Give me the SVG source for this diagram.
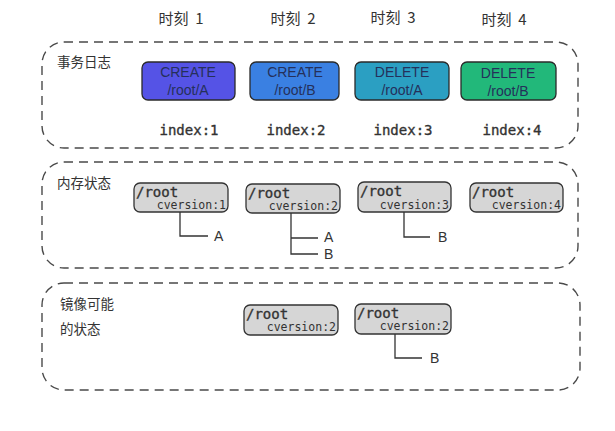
<svg xmlns="http://www.w3.org/2000/svg" width="615" height="431" viewBox="0 0 615 431">
<style>
.bg{fill:#ffffff}
.group{fill:none;stroke:#4a4a4a;stroke-width:1.4;stroke-dasharray:9 6}
.title{font-family:"Noto Sans CJK SC","Noto Sans",sans-serif;font-size:15px;fill:#333;text-anchor:middle;white-space:pre}
.sec{font-family:"Noto Sans CJK SC","Noto Sans",sans-serif;font-size:13.5px;fill:#333}
.log{stroke:#2a2a2a;stroke-width:1.3}
.logt{font-family:"Liberation Sans",sans-serif;font-size:14px;fill:#25305a;text-anchor:middle}
.idx{font-family:"DejaVu Sans Mono","Liberation Mono",monospace;font-size:14px;fill:#333;stroke:#333;stroke-width:0.35;text-anchor:middle}
.mem{fill:#d6d6d6;stroke:#333;stroke-width:1.3}
.root{font-family:"DejaVu Sans Mono","Liberation Mono",monospace;font-size:14px;fill:#333;stroke:#333;stroke-width:0.35}
.cv{font-family:"DejaVu Sans Mono","Liberation Mono",monospace;font-size:11.5px;fill:#333;text-anchor:end}
.tree{fill:none;stroke:#333;stroke-width:1.3}
.leaf{font-family:"Liberation Sans",sans-serif;font-size:14px;fill:#333}
</style>
<rect class="bg" x="0" y="0" width="615" height="431"/>

<g id="titles">
<text class="title" x="181" y="24">时刻  1</text>
<text class="title" x="293" y="24">时刻  2</text>
<text class="title" x="393" y="23">时刻  3</text>
<text class="title" x="504" y="25">时刻  4</text>
</g>

<g id="group-log">
<rect class="group" x="42" y="42" width="536" height="106" rx="22"/>
<text class="sec" x="57" y="67">事务日志</text>
</g>
<g id="group-mem">
<rect class="group" x="42" y="162" width="536" height="106" rx="22"/>
<text class="sec" x="57" y="188">内存状态</text>
</g>
<g id="group-mirror">
<rect class="group" x="42" y="283" width="538" height="107" rx="22"/>
<text class="sec" x="60" y="309">镜像可能</text>
<text class="sec" x="60" y="334">的状态</text>
</g>

<g id="log1">
<rect class="log" x="142" y="62" width="93" height="38" rx="6" fill="#5553e6"/>
<text class="logt" x="188" y="77">CREATE</text>
<text class="logt" x="188" y="95">/root/A</text>
</g>
<g id="log2">
<rect class="log" x="250" y="62" width="89" height="38" rx="6" fill="#3a80e2"/>
<text class="logt" x="295" y="77">CREATE</text>
<text class="logt" x="295" y="95">/root/B</text>
</g>
<g id="log3">
<rect class="log" x="355" y="62" width="94" height="38" rx="6" fill="#2b9fc2"/>
<text class="logt" x="402" y="77">DELETE</text>
<text class="logt" x="402" y="95">/root/A</text>
</g>
<g id="log4">
<rect class="log" x="461" y="62" width="95" height="38" rx="6" fill="#22b87a"/>
<text class="logt" x="508" y="78">DELETE</text>
<text class="logt" x="508" y="96">/root/B</text>
</g>

<g id="indexes">
<text class="idx" x="189" y="135">index:1</text>
<text class="idx" x="296" y="135">index:2</text>
<text class="idx" x="403" y="135">index:3</text>
<text class="idx" x="512" y="135">index:4</text>
</g>

<g id="mem1">
<rect class="mem" x="134" y="183" width="94" height="29" rx="6"/>
<text class="root" x="136" y="197">/root</text>
<text class="cv" x="226" y="209">cversion:1</text>
</g>
<g id="mem2">
<rect class="mem" x="246" y="184" width="94" height="29" rx="6"/>
<text class="root" x="248" y="198">/root</text>
<text class="cv" x="338" y="210">cversion:2</text>
</g>
<g id="mem3">
<rect class="mem" x="358" y="182" width="93" height="30" rx="6"/>
<text class="root" x="360" y="196">/root</text>
<text class="cv" x="449" y="209">cversion:3</text>
</g>
<g id="mem4">
<rect class="mem" x="470" y="183" width="93" height="29" rx="6"/>
<text class="root" x="472" y="197">/root</text>
<text class="cv" x="561" y="209">cversion:4</text>
</g>

<g id="mirror1">
<rect class="mem" x="244" y="305" width="94" height="30" rx="6"/>
<text class="root" x="246" y="319">/root</text>
<text class="cv" x="336" y="331">cversion:2</text>
</g>
<g id="mirror2">
<rect class="mem" x="355" y="304" width="96" height="30" rx="6"/>
<text class="root" x="357" y="318">/root</text>
<text class="cv" x="449" y="330">cversion:2</text>
</g>

<g id="connectors">
<path class="tree" d="M180 212 V236 H208"/>
<path class="tree" d="M291 213 V254 H318 M291 238 H318"/>
<path class="tree" d="M404 212 V237 H430"/>
<path class="tree" d="M395 334 V358 H422"/>
</g>

<g id="leaves">
<text class="leaf" x="214" y="241">A</text>
<text class="leaf" x="324" y="242">A</text>
<text class="leaf" x="324" y="259">B</text>
<text class="leaf" x="438" y="242">B</text>
<text class="leaf" x="430" y="363">B</text>
</g>
</svg>
